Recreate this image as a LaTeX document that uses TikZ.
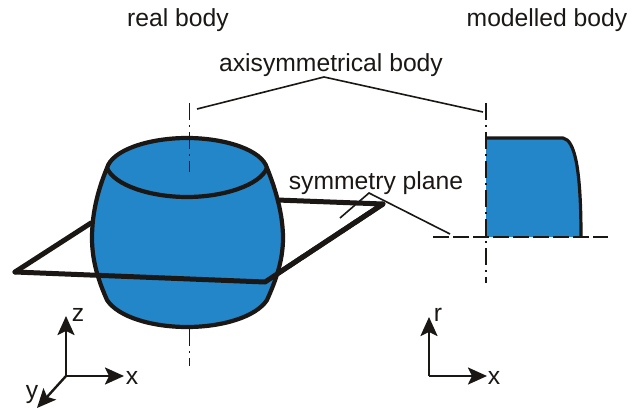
\documentclass[tikz,border=0pt]{standalone}
\usepackage{fontspec}
\setmainfont{Liberation Sans}
\usetikzlibrary{arrows.meta}
\definecolor{bodyblue}{HTML}{2386C9}
\definecolor{ink}{HTML}{1A1715}
\tikzset{
  x=1pt,y=-1pt,
  label text/.style={text=ink,font=\fontsize{24.7}{28}\selectfont,inner sep=0pt,anchor=base},
  outline/.style={draw=ink,line width=4.2pt,line join=round},
  plane/.style={draw=ink,line width=5pt,line join=round,line cap=round},
  axisline/.style={draw=ink,line width=1.6pt,dash pattern=on 17pt off 5pt on 2pt off 5pt},
  leader/.style={draw=ink,line width=1.6pt},
  axisarrow/.style={draw=ink,line width=2.4pt,-{Stealth[length=19pt,width=17pt,inset=4pt]}},
}
\begin{document}
\begin{tikzpicture}
\useasboundingbox (0,0) rectangle (642,409);
% coordinates
\coordinate (pl) at (15,272);
\coordinate (pf) at (265,282);
\coordinate (pk) at (277,274);
\coordinate (pr) at (383,204);
\coordinate (pb) at (277,200);
\coordinate (pa) at (91,223);
% plane behind
\draw[plane] (pl) -- (pa);
\draw[plane] (pb) -- (pr) -- (pk);
% body
\path[outline,fill=bodyblue] (107,168)
  .. controls (97,192) and (92,215) .. (92,238)
  .. controls (92,262) and (99,282) .. (107,300)
  .. controls (118,317) and (152,327) .. (187,327)
  .. controls (222,327) and (256,317) .. (267,300)
  .. controls (275,282) and (283,262) .. (283,238)
  .. controls (283,215) and (276,190) .. (267,168)
  .. controls (262,150) and (225,138) .. (187,138)
  .. controls (149,138) and (112,150) .. (107,168) -- cycle;
\draw[outline] (107,168) .. controls (114,185) and (150,197) .. (187,197)
  .. controls (224,197) and (260,185) .. (267,168);
% plane front
\draw[plane] (pr) -- (pk) -- (pf) -- (pl);
% axis left
\coordinate (a1) at (189.5,103);
\coordinate (a2) at (189.5,172);
\coordinate (a3) at (189.5,329);
\coordinate (a4) at (189.5,366);
\draw[axisline] (a1) -- (a2);
\draw[axisline] (a3) -- (a4);
% modelled body
\path[fill=bodyblue] (486,138) -- (563,138) .. controls (575,140) and (581,170) .. (581,237) -- (486,237) -- cycle;
\draw[draw=ink,line width=3.2pt,line join=round] (486,138) -- (563,138) .. controls (575,140) and (581,170) .. (581,237);
\coordinate (m1) at (486,103);
\coordinate (m2) at (486,283);
\coordinate (h1) at (433,237);
\coordinate (h2) at (608,237);
\draw[axisline,line width=2.2pt] (m1) -- (m2);
\draw[draw=ink,line width=2pt,dash pattern=on 16pt off 4pt] (h1) -- (h2);
% leaders
\coordinate (ax) at (324,77);
\coordinate (sy) at (369,193);
\draw[leader] (197,109) -- (ax) -- (483,112);
\draw[leader] (340,218) -- (sy) -- (450,234);
% text
\node[label text] (t1) at (178,27) {real body};
\node[label text] (t2) at (547,27) {modelled body};
\node[label text] (t3) at (331,72) {axisymmetrical body};
\node[label text] (t4) at (376,189) {symmetry plane};
% left axes
\coordinate (o1) at (66,376);
\draw[axisarrow] (o1) -- (66,316);
\draw[axisarrow] (o1) -- (124,376);
\draw[axisarrow] (o1) -- (37,408);
\node[label text] (z) at (78,321) {z};
\node[label text] (x1) at (132,384) {x};
\node[label text] (y) at (32,398) {y};
% right axes
\coordinate (o2) at (429,376);
\draw[axisarrow] (o2) -- (429,317);
\draw[axisarrow] (o2) -- (487,376);
\node[label text] (r) at (438,321) {r};
\node[label text] (x2) at (494,384) {x};
\end{tikzpicture}
\end{document}
